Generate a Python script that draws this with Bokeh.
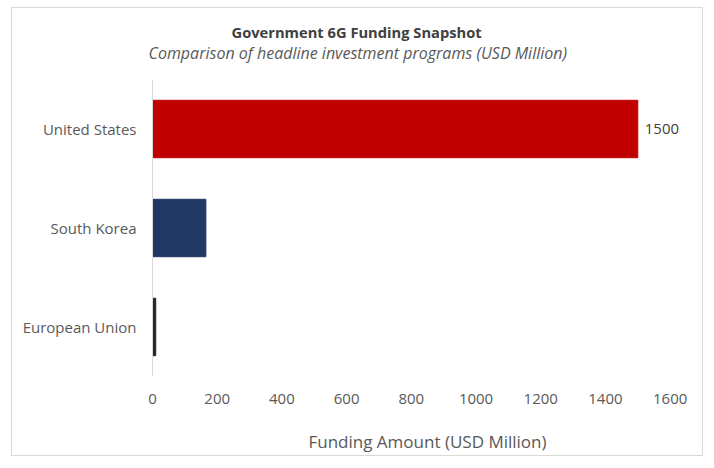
from bokeh.plotting import figure
from bokeh.models import ColumnDataSource, FactorRange, LabelSet, FixedTicker, Title
from bokeh.core.properties import value
from bokeh.embed import file_html
from bokeh.resources import INLINE

regions = ["United States", "South Korea", "European Union"]
funding = [1500, 165, 10]
colors = ["#C00000", "#1F3864", "#262626"]
bar_labels = ["1500", "", ""]
x_ticks = [0, 200, 400, 600, 800, 1000, 1200, 1400, 1600]

FONT = "Open Sans"

src = ColumnDataSource(dict(region=regions, funding=funding, color=colors, label=bar_labels))

p = figure(
    width=692, height=449,
    y_range=FactorRange(factors=list(reversed(regions))),
    x_range=(0, 1700),
    output_backend="svg", toolbar_location=None,
    min_border_left=140, min_border_right=2, min_border_top=71, min_border_bottom=81,
)
p.margin = (7, 0, 0, 11)
p.styles = {"border": "1px solid #d9d9d9"}
p.outline_line_color = None
p.background_fill_color = "white"
p.border_fill_color = "white"
p.xgrid.visible = False
p.ygrid.visible = False

p.hbar(y="region", right="funding", left=0, height=0.58, color="color", source=src)
labels = LabelSet(x="funding", y="region", text="label", source=src, x_offset=7,
                  text_baseline="middle", text_align="left", text_font=value(FONT),
                  text_font_size="15px", text_color="#404040")
p.add_layout(labels)

xa = p.xaxis[0]
xa.ticker = FixedTicker(ticks=x_ticks)
xa.axis_line_color = None
xa.major_tick_line_color = None
xa.minor_tick_line_color = None
xa.major_tick_out = 0
xa.minor_tick_out = 0
xa.major_label_text_font = FONT
xa.major_label_text_font_size = "15px"
xa.major_label_text_color = "#595959"
xa.major_label_standoff = 17
xa.axis_label = "Funding Amount (USD Million)"
xa.axis_label_text_font = FONT
xa.axis_label_text_font_size = "17px"
xa.axis_label_text_font_style = "normal"
xa.axis_label_text_color = "#595959"
xa.axis_label_standoff = 23

ya = p.yaxis[0]
ya.axis_line_color = "#d9d9d9"
ya.major_tick_line_color = None
ya.minor_tick_line_color = None
ya.major_tick_out = 0
ya.minor_tick_out = 0
ya.major_label_text_font = FONT
ya.major_label_text_font_size = "15px"
ya.major_label_text_color = "#595959"
ya.major_label_standoff = 16

subtitle = Title(text="Comparison of headline investment programs (USD Million)",
                 align="left", offset=-4, standoff=31, text_font=FONT,
                 text_font_size="16px", text_font_style="italic", text_color="#595959")
title = Title(text="Government 6G Funding Snapshot", align="left", offset=79,
              standoff=-35, text_font=FONT, text_font_size="14.7px",
              text_font_style="bold", text_color="#404040")
p.add_layout(subtitle, "above")
p.add_layout(title, "above")

open("out.html", "w").write(file_html(p, INLINE))
